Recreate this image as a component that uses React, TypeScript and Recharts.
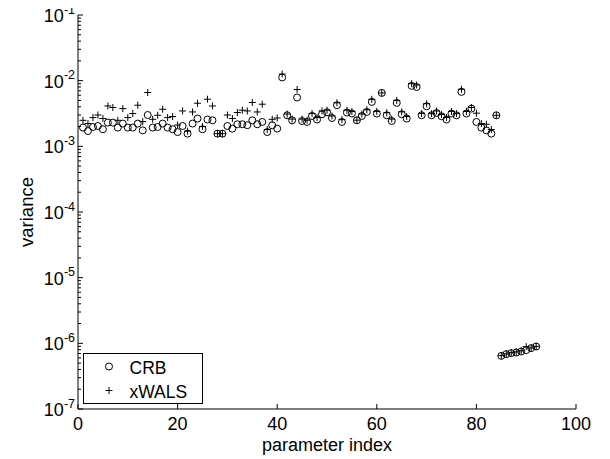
import { ScatterChart, Scatter, XAxis, YAxis, Legend } from 'recharts';

// variance per parameter (index 1..92)
const crb = [
  1.93e-3, 1.71e-3, 1.97e-3, 2.04e-3, 1.82e-3, 2.3e-3, 2.3e-3, 1.93e-3, 2.22e-3, 1.93e-3,
  1.93e-3, 2.22e-3, 1.75e-3, 3.0e-3, 1.93e-3, 1.97e-3, 2.22e-3, 1.93e-3, 1.82e-3, 1.65e-3,
  2.04e-3, 1.56e-3, 2.22e-3, 2.65e-3, 1.82e-3, 2.56e-3, 2.49e-3, 1.56e-3, 1.56e-3, 2.04e-3,
  1.86e-3, 2.17e-3, 2.17e-3, 2.1e-3, 2.49e-3, 2.17e-3, 2.35e-3, 1.65e-3, 2.09e-3, 1.86e-3,
  1.12e-2, 2.97e-3, 2.49e-3, 5.54e-3, 2.43e-3, 2.35e-3, 2.9e-3, 2.56e-3, 3.08e-3, 3.3e-3,
  2.7e-3, 4.23e-3, 2.35e-3, 3.27e-3, 3.16e-3, 2.49e-3, 2.9e-3, 3.34e-3, 4.75e-3, 3.16e-3,
  6.51e-3, 2.97e-3, 2.43e-3, 4.58e-3, 3.08e-3, 2.65e-3, 8.33e-3, 8.0e-3, 2.97e-3, 4.08e-3,
  2.97e-3, 3.22e-3, 2.87e-3, 2.56e-3, 3.16e-3, 2.97e-3, 6.75e-3, 3.16e-3, 3.76e-3, 2.35e-3,
  1.93e-3, 1.75e-3, 1.56e-3, 2.97e-3, 6.44e-7, 6.84e-7, 7.09e-7, 7.24e-7, 7.5e-7, 7.88e-7,
  8.45e-7, 8.94e-7,
];

const xwals = [
  2.49e-3, 2.22e-3, 2.74e-3, 3.0e-3, 2.65e-3, 4.12e-3, 3.9e-3, 2.49e-3, 3.76e-3, 2.74e-3,
  3.16e-3, 4.23e-3, 2.38e-3, 6.6e-3, 2.58e-3, 2.97e-3, 3.67e-3, 2.74e-3, 2.84e-3, 2.11e-3,
  3.46e-3, 1.7e-3, 3.34e-3, 4.53e-3, 2.0e-3, 5.22e-3, 4.12e-3, 1.56e-3, 1.56e-3, 3.0e-3,
  2.65e-3, 3.27e-3, 3.55e-3, 3.46e-3, 4.65e-3, 3.34e-3, 4.38e-3, 1.8e-3, 2.58e-3, 2.7e-3,
  1.26e-2, 3.1e-3, 2.6e-3, 7.34e-3, 2.6e-3, 2.5e-3, 3.16e-3, 2.74e-3, 3.46e-3, 3.55e-3,
  2.9e-3, 4.6e-3, 2.55e-3, 3.55e-3, 3.4e-3, 2.5e-3, 3.1e-3, 3.6e-3, 5.2e-3, 3.4e-3,
  6.5e-3, 3.25e-3, 2.6e-3, 5.0e-3, 3.35e-3, 2.85e-3, 9.0e-3, 8.6e-3, 3.15e-3, 4.45e-3,
  3.15e-3, 3.45e-3, 3.05e-3, 2.75e-3, 3.4e-3, 3.15e-3, 7.4e-3, 3.4e-3, 3.9e-3, 3.2e-3,
  2.22e-3, 2.17e-3, 1.8e-3, 2.97e-3, 6.5e-7, 6.9e-7, 7.2e-7, 7.4e-7, 7.7e-7, 8.9e-7,
  8.5e-7, 9.0e-7,
];

const xTicks = [0, 20, 40, 60, 80, 100];
const decades = [1e-7, 1e-6, 1e-5, 1e-4, 1e-3, 1e-2, 1e-1];
const minorSteps = [2, 3, 4, 5, 6, 7, 8, 9];
const seriesNames = ['CRB', 'xWALS'];

const yTicks = [
  ...decades,
  ...decades.slice(0, -1).flatMap((d) => minorSteps.map((m) => m * d)),
];

const crbPts = crb.map((v, i) => ({ idx: i + 1, v }));
const xwalsPts = xwals.map((v, i) => ({ idx: i + 1, v }));

const FONT = '"Liberation Sans", Arial, Helvetica, sans-serif';
const isMajor = (v: number) => decades.includes(v);

const BottomTick = (p: any) => (
  <g>
    <line x1={p.x} y1={p.y} x2={p.x} y2={p.y - 5} stroke="#000" />
    <text x={p.x} y={p.y + 21} textAnchor="middle" fontSize={18} fontFamily={FONT} fill="#000">
      {p.payload.value}
    </text>
  </g>
);

const TopTick = (p: any) => (
  <line x1={p.x} y1={p.y} x2={p.x} y2={p.y + 5} stroke="#000" />
);

const LeftTick = (p: any) => {
  const v = p.payload.value;
  const major = isMajor(v);
  return (
    <g>
      <line x1={p.x} y1={p.y} x2={p.x + (major ? 5 : 3)} y2={p.y} stroke="#000" />
      {major && (
        <text x={p.x - 3} y={p.y + 7} textAnchor="end" fontSize={18} fontFamily={FONT} fill="#000">
          10
          <tspan dy={-8.5} fontSize={12.5}>{Math.round(Math.log10(v))}</tspan>
        </text>
      )}
    </g>
  );
};

const RightTick = (p: any) => {
  const major = isMajor(p.payload.value);
  return <line x1={p.x} y1={p.y} x2={p.x - (major ? 5 : 3)} y2={p.y} stroke="#000" />;
};

const CircleMark = (p: any) => (
  <circle cx={p.cx} cy={p.cy} r={3.5} fill="none" stroke="#000" strokeWidth={1} />
);

const PlusMark = (p: any) => (
  <path
    d={`M${p.cx - 3.5},${p.cy}H${p.cx + 3.5}M${p.cx},${p.cy - 3.5}V${p.cy + 3.5}`}
    stroke="#000"
    strokeWidth={1}
    fill="none"
  />
);

const XLabel = (p: any) => {
  const vb = p.viewBox;
  return (
    <text x={vb.x + vb.width / 2} y={vb.y + 41.5} textAnchor="middle" fontSize={18} fontFamily={FONT} fill="#000">
      parameter index
    </text>
  );
};

const YLabel = (p: any) => {
  const vb = p.viewBox;
  return (
    <text
      transform={`translate(${vb.x + 33},${vb.y + vb.height / 2}) rotate(-90)`}
      textAnchor="middle"
      fontSize={18.5}
      fontFamily={FONT}
      fill="#000"
    >
      variance
    </text>
  );
};

const LegendBox = ({ payload }: any) => (
  <svg width={120} height={51} style={{ display: 'block' }}>
    <rect x={0.5} y={0.5} width={119} height={50} fill="#fff" stroke="#000" />
    {(payload || []).map((entry: any, i: number) => {
      const cy = 13.5 + i * 24;
      return (
        <g key={entry.value}>
          {i === 0 ? <CircleMark cx={26} cy={cy} /> : <PlusMark cx={26} cy={cy} />}
          <text x={46.5} y={cy + 7} fontSize={17.5} fontFamily={FONT} fill="#000">
            {entry.value}
          </text>
        </g>
      );
    })}
  </svg>
);

export default function App() {
  return (
    <div style={{ marginLeft: -8, marginTop: -8, background: '#fff' }}>
      <ScatterChart width={610} height={459} margin={{ top: 15, right: 34, bottom: 0, left: 0 }}>
        <XAxis
          xAxisId="b"
          dataKey="idx"
          type="number"
          domain={[0, 100]}
          ticks={xTicks}
          interval={0}
          height={50}
          tickSize={0}
          tickMargin={0}
          tickLine={false}
          tick={<BottomTick />}
          axisLine={{ stroke: '#000' }}
          label={<XLabel />}
        />
        <XAxis
          xAxisId="t"
          orientation="top"
          type="number"
          domain={[0, 100]}
          ticks={xTicks}
          interval={0}
          height={0}
          tickSize={0}
          tickMargin={0}
          tickLine={false}
          tick={<TopTick />}
          axisLine={{ stroke: '#000' }}
        />
        <YAxis
          yAxisId="l"
          dataKey="v"
          type="number"
          scale="log"
          domain={[1e-7, 1e-1]}
          allowDataOverflow
          ticks={yTicks}
          interval={0}
          width={78}
          tickSize={0}
          tickMargin={0}
          tickLine={false}
          tick={<LeftTick />}
          axisLine={{ stroke: '#000' }}
          label={<YLabel />}
        />
        <YAxis
          yAxisId="r"
          orientation="right"
          type="number"
          scale="log"
          domain={[1e-7, 1e-1]}
          allowDataOverflow
          ticks={yTicks}
          interval={0}
          width={0}
          tickSize={0}
          tickMargin={0}
          tickLine={false}
          tick={<RightTick />}
          axisLine={{ stroke: '#000' }}
        />
        <Legend
          layout="horizontal"
          verticalAlign="middle"
          align="center"
          content={<LegendBox />}
          wrapperStyle={{ left: 83, top: 353, width: 120, height: 51 }}
        />
        <Scatter
          name={seriesNames[0]}
          data={crbPts}
          xAxisId="b"
          yAxisId="l"
          shape={CircleMark}
          isAnimationActive={false}
        />
        <Scatter
          name={seriesNames[1]}
          data={xwalsPts}
          xAxisId="b"
          yAxisId="l"
          shape={PlusMark}
          isAnimationActive={false}
        />
      </ScatterChart>
    </div>
  );
}
